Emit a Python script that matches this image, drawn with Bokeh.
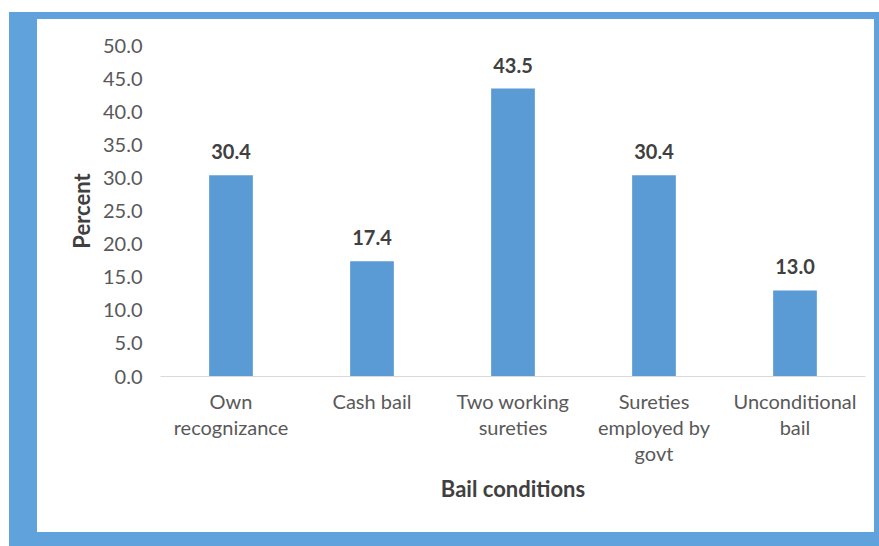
from bokeh.plotting import figure
from bokeh.models import ColumnDataSource, NumeralTickFormatter, FixedTicker, Range1d, FactorRange
from bokeh.core.properties import value
from bokeh.layouts import column
from bokeh.embed import file_html
from bokeh.resources import INLINE

categories = ["Own\nrecognizance", "Cash bail", "Two working\nsureties",
              "Sureties\nemployed by\ngovt", "Unconditional\nbail"]
percent = [30.4, 17.4, 43.5, 30.4, 13.0]
y_ticks = [0, 5, 10, 15, 20, 25, 30, 35, 40, 45, 50]

labels = [f"{v:.1f}" for v in percent]
src = ColumnDataSource(dict(cat=categories, val=percent, lab=labels))

FONT = "Lato"
p = figure(x_range=FactorRange(*categories), y_range=Range1d(0, 50),
           width=837, height=513, output_backend="svg", toolbar_location=None,
           min_border_left=123, min_border_right=9, min_border_top=26, min_border_bottom=156,
           margin=(7, 5, 14, 28), styles={"background-color": "white"})

p.vbar(x="cat", top="val", width=0.31, source=src, fill_color="#5b9bd5", line_color=None)
p.text(x="cat", y="val", text="lab", source=src, text_align="center", text_baseline="bottom",
       y_offset=-16, text_font=value(FONT), text_font_size="20px",
       text_font_style="bold", text_color="#404040")

p.background_fill_color = "white"
p.border_fill_color = "white"
p.outline_line_color = None
p.xgrid.visible = False
p.ygrid.visible = False

p.yaxis.ticker = FixedTicker(ticks=y_ticks)
p.yaxis.formatter = NumeralTickFormatter(format="0.0")
p.yaxis.axis_line_color = None
p.yaxis.major_tick_line_color = None
p.yaxis.minor_tick_line_color = None
p.yaxis.major_label_standoff = 12
p.yaxis.axis_label = "Percent"
p.yaxis.axis_label_standoff = 5

p.xaxis.axis_line_color = "#d9d9d9"
p.xaxis.axis_line_width = 1
p.xaxis.major_tick_line_color = None
p.xaxis.minor_tick_line_color = None
p.xaxis.major_label_standoff = 6
p.xaxis.major_label_text_line_height = 1.1
p.xaxis.axis_label = "Bail conditions"
p.xaxis.axis_label_standoff = 7

for ax in (p.xaxis[0], p.yaxis[0]):
    ax.major_label_text_font = FONT
    ax.major_label_text_font_size = "20px"
    ax.major_label_text_color = "#595959"
    ax.axis_label_text_font = FONT
    ax.axis_label_text_font_size = "22px"
    ax.axis_label_text_font_style = "bold"
    ax.axis_label_text_color = "#404040"

layout = column(p, margin=(12, 0, 0, 9), styles={"background-color": "#5fa2dc"})

open("out.html", "w").write(file_html(layout, INLINE))
